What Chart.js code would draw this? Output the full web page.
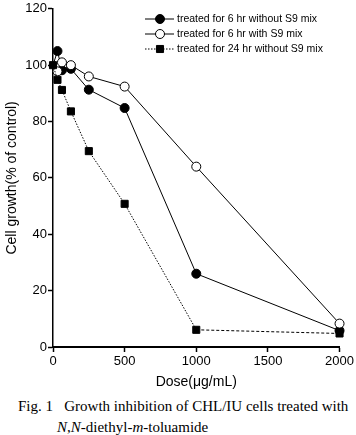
<!DOCTYPE html>
<html><head><meta charset="utf-8">
<script src="https://cdn.jsdelivr.net/npm/chart.js@4/dist/chart.umd.min.js"></script>
<style>
html,body{margin:0;padding:0;background:#fff;}
#wrap{position:relative;width:356px;height:435px;}
#c{position:absolute;left:0;top:0;}
#cap{position:absolute;left:18px;top:396px;font-family:"Liberation Serif","DejaVu Serif",serif;font-size:15px;line-height:21px;color:#000;white-space:nowrap;}
</style></head>
<body><div id="wrap"><canvas id="c" width="356" height="395"></canvas>
<div id="cap">Fig. 1&nbsp;&nbsp; Growth inhibition of CHL/IU cells treated with<br><span style="padding-left:39px"><i>N</i>,<i>N</i>-diethyl-<i>m</i>-toluamide</span></div></div>
<script>
const doses = [0, 31.25, 62.5, 125, 250, 500, 1000, 2000];
const seriesNames = ["treated for 6 hr without S9 mix", "treated for 6 hr with S9 mix", "treated for 24 hr without S9 mix"];
const growth6hNoS9 = [100, 105, 98.2, 98.7, 91.3, 84.8, 26, 5.8];
const growth6hS9 = [100, 97.8, 101, 100, 96, 92.4, 64, 8.3];
const growth24hNoS9 = [100, 94.8, 91.2, 83.6, 69.5, 50.8, 6.1, 4.8];
const yTicks = [0, 20, 40, 60, 80, 100, 120];
const xTicks = [0, 500, 1000, 1500, 2000];

const toXY = arr => doses.map((d, i) => ({x: d, y: arr[i]}));
const F = "'Liberation Sans', Arial, sans-serif";
const circleRadii = doses.map((d, i) => i === 0 ? 0 : 4.5);

const legendPlugin = {
  id: 'customLegend',
  afterDraw(chart) {
    const ctx = chart.ctx;
    const rows = [19, 34, 49];
    const mx = 160;
    chart.data.datasets.forEach((ds, i) => {
      const y = rows[i];
      ctx.save();
      ctx.strokeStyle = '#000';
      ctx.lineWidth = 1;
      ctx.setLineDash(i === 2 ? [1.5, 1.5] : []);
      ctx.beginPath(); ctx.moveTo(145, y); ctx.lineTo(174, y); ctx.stroke();
      ctx.setLineDash([]);
      ctx.fillStyle = ds.pointBackgroundColor; ctx.strokeStyle = '#000';
      ctx.beginPath();
      if (ds.pointStyle === 'rect') { const s = 5 * Math.SQRT1_2; ctx.rect(mx - s, y - s, 2*s, 2*s); }
      else { ctx.arc(mx, y, 4.5, 0, Math.PI*2); }
      ctx.fill(); ctx.stroke();
      ctx.fillStyle = '#000';
      ctx.font = "10.5px " + F;
      ctx.textBaseline = 'middle';
      ctx.fillText(ds.label, 177, y);
      ctx.restore();
    });
  }
};

new Chart(document.getElementById('c'), {
  type: 'line',
  data: {
    datasets: [
      {label: seriesNames[0], data: toXY(growth6hNoS9), borderColor: '#000', borderWidth: 1, pointStyle: 'circle', pointRadius: circleRadii, pointBackgroundColor: '#000', pointBorderColor: '#000', tension: 0, order: 2, clip: false},
      {label: seriesNames[1], data: toXY(growth6hS9), borderColor: '#000', borderWidth: 1, pointStyle: 'circle', pointRadius: circleRadii, pointBackgroundColor: '#fff', pointBorderColor: '#000', tension: 0, order: 1, clip: false},
      {label: seriesNames[2], data: toXY(growth24hNoS9), borderColor: '#000', borderWidth: 1,
       segment: {borderDash: c => c.p0DataIndex === 6 ? [3, 2] : [1.5, 1.5]},
       pointStyle: 'rect', pointRadius: 5, pointBackgroundColor: '#000', pointBorderColor: '#000', tension: 0, order: 0, clip: false}
    ]
  },
  options: {
    responsive: false,
    animation: false,
    layout: {padding: {top: 6, right: 16, left: 0, bottom: 0}},
    plugins: {legend: {display: false}, tooltip: {enabled: false}},
    scales: {
      x: {
        type: 'linear', min: 0, max: 2000,
        afterBuildTicks: s => { s.ticks = xTicks.map(v => ({value: v})); },
        afterFit: s => { s.height = 48; },
        grid: {display: true, drawOnChartArea: false, tickLength: 5, tickColor: '#000', tickWidth: 1.5},
        border: {color: '#000', width: 2},
        ticks: {color: '#000', font: {family: F, size: 13}, padding: 2, maxRotation: 0, callback: v => String(v)},
        title: {display: true, text: 'Dose(μg/mL)', color: '#000', font: {family: F, size: 14}, padding: {top: 4, bottom: 4}}
      },
      y: {
        type: 'linear', min: 0, max: 120,
        afterBuildTicks: s => { s.ticks = yTicks.map(v => ({value: v})); },
        afterFit: s => { s.width = 53; },
        grid: {display: true, drawOnChartArea: false, tickLength: 5, tickColor: '#000', tickWidth: 1.5},
        border: {color: '#000', width: 1.5},
        ticks: {color: '#000', font: {family: F, size: 13}, padding: 1, callback: v => String(v)},
        title: {display: true, text: 'Cell growth(% of control)', color: '#000', font: {family: F, size: 14}, padding: {top: 4, bottom: 4}}
      }
    }
  },
  plugins: [legendPlugin]
});
</script></body></html>
